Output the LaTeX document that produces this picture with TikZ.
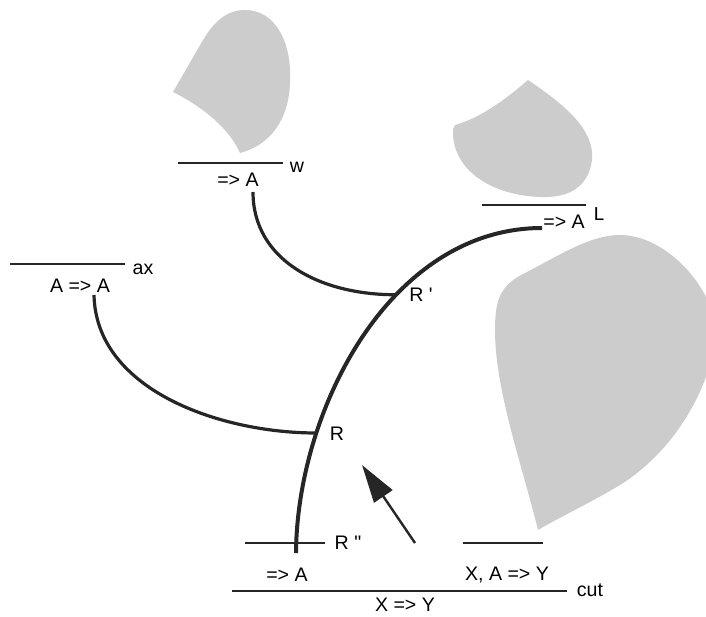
\documentclass[tikz,border=0pt]{standalone}
\usepackage{fontspec}
\newfontfamily\labelfont{Liberation Sans}
\newfontfamily\codefont{Liberation Mono}
\usetikzlibrary{arrows.meta}

\begin{document}
\begin{tikzpicture}[x=0.5pt,y=-0.5pt,line width=1.3pt,
  seq/.style={font=\fontsize{9.8}{11}\labelfont,inner sep=1pt},
  bar/.style={line width=1.3pt,draw=black!85},
  link/.style={line width=1.6pt,draw=black!85}]
  \colorlet{blob}{black!20}
  \useasboundingbox (0,0) rectangle (706,616);
  % grey regions
  \fill[blob] (173,92) -- (203,40) .. controls (215,20) and (228,10) .. (245,10)
    .. controls (277,10) and (292,45) .. (290,82) .. controls (289,120) and (270,145) .. (240,153)
    .. controls (230,130) and (205,108) .. (173,92) -- cycle;
  \fill[blob] (455,125) .. controls (480,118) and (505,100) .. (528,80)
    .. controls (565,105) and (595,130) .. (592,160) .. controls (588,190) and (565,198) .. (540,197)
    .. controls (490,195) and (455,170) .. (453,135) .. controls (453,130) and (453,127) .. (455,125) -- cycle;
  \fill[blob] (538,530) .. controls (522,465) and (495,390) .. (495,330)
    .. controls (495,300) and (500,285) .. (525,273) .. controls (560,255) and (590,235) .. (620,235)
    .. controls (655,235) and (690,265) .. (706,297) -- (706,377)
    .. controls (690,420) and (660,460) .. (620,485) .. controls (590,503) and (560,517) .. (538,530) -- cycle;
  % inference bars, sequents and rule names
  \draw[bar] (178,163) -- (283,163);
  \node[seq] (wseq) at (238,180) {=> A};
  \node[seq] (wname) at (297,167) {w};
  \draw[bar] (10,264) -- (125,264);
  \node[seq] (axseq) at (80,286) {A => A};
  \node[seq] (axname) at (143,269) {ax};
  \draw[bar] (482,205) -- (586,205);
  \node[seq] (Lseq) at (564,222) {=> A};
  \node[font=\fontsize{9.8}{11}\codefont,inner sep=1pt] (Lname) at (599,214) {L};
  \draw[bar] (245,543) -- (325,543);
  \node[seq] (Rppname) at (348,543) {R "};
  \node[seq] (leftseq) at (287,575) {=> A};
  \draw[bar] (463,543) -- (543,543);
  \node[seq] (rightseq) at (507,575) {X, A => Y};
  \draw[bar] (232,591) -- (567,591);
  \node[seq] (cutname) at (590,590) {cut};
  \node[seq] (cutseq) at (405,605) {X => Y};
  % ends of the threads
  \coordinate (wfoot) at (253,192);
  \coordinate (axfoot) at (94,295);
  \coordinate (botfoot) at (296,553);
  \coordinate (Lend) at (542,228);
  % main thread, with the two places where the side threads join it
  \draw[line width=2pt,black!85] (botfoot) .. controls (297,410) and (390,228) .. (Lend)
    coordinate[pos=0.27] (R) coordinate[pos=0.62] (Rp);
  \draw[link] (wfoot) .. controls (253,260) and (320,295) .. (Rp);
  \draw[link] (axfoot) .. controls (96,390) and (220,433) .. (R);
  \node[seq] (Rname) at (337,434) {R};
  \node[seq] (Rpname) at (421,295) {R '};
  % direction of the reduction
  \coordinate (tail) at (415,543);
  \coordinate (tip) at (362,465);
  \draw[-{Triangle[length=19pt,width=11pt]},line width=1.2pt,black!85] (tail) -- (tip);
\end{tikzpicture}
\end{document}
